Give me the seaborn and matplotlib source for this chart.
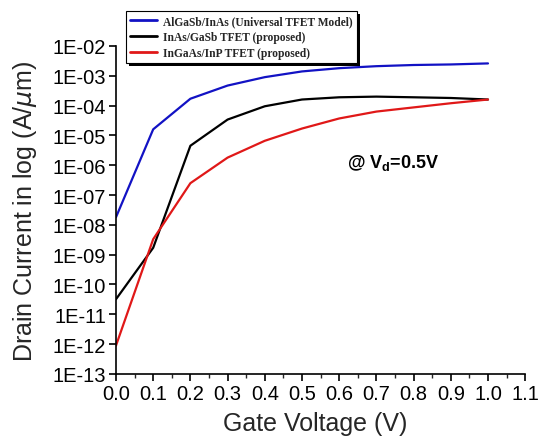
import numpy as np
import pandas as pd
import matplotlib
matplotlib.use("Agg")
import matplotlib.pyplot as plt
import seaborn as sns
from matplotlib.ticker import FixedLocator, MultipleLocator, FixedFormatter

gate_voltage = [0.0, 0.1, 0.2, 0.3, 0.4, 0.5, 0.6, 0.7, 0.8, 0.9, 1.0]
algasb_inas = [1.8e-8, 1.6e-5, 1.7e-4, 4.7e-4, 9.0e-4, 1.4e-3, 1.8e-3, 2.1e-3, 2.3e-3, 2.4e-3, 2.6e-3]
inas_gasb = [3.2e-11, 1.7e-9, 4.5e-6, 3.4e-5, 9.5e-5, 1.6e-4, 1.9e-4, 2.0e-4, 1.9e-4, 1.8e-4, 1.6e-4]
ingaas_inp = [8.9e-13, 3.3e-9, 2.5e-7, 1.8e-6, 6.6e-6, 1.7e-5, 3.7e-5, 6.3e-5, 8.7e-5, 1.2e-4, 1.6e-4]
series_names = ["AlGaSb/InAs (Universal TFET Model)", "InAs/GaSb TFET (proposed)", "InGaAs/InP TFET (proposed)"]
colors = ["#1212c4", "#000000", "#e01818"]
y_ticks = [1e-2, 1e-3, 1e-4, 1e-5, 1e-6, 1e-7, 1e-8, 1e-9, 1e-10, 1e-11, 1e-12, 1e-13]
y_tick_labels = ["1E-02", "1E-03", "1E-04", "1E-05", "1E-06", "1E-07", "1E-08", "1E-09", "1E-10", "1E-11", "1E-12", "1E-13"]
x_ticks = [0.0, 0.1, 0.2, 0.3, 0.4, 0.5, 0.6, 0.7, 0.8, 0.9, 1.0, 1.1]

df = pd.DataFrame({
    "Vg": gate_voltage * 3,
    "Id": algasb_inas + inas_gasb + ingaas_inp,
    "series": [series_names[0]] * 11 + [series_names[1]] * 11 + [series_names[2]] * 11,
})

sns.set_style("ticks")
plt.rcParams["font.family"] = ["Liberation Sans", "DejaVu Sans"]

fig = plt.figure(figsize=(5.42, 4.39), dpi=100)
ax = fig.add_axes([0.214, 0.146, 0.755, 0.747])

sns.lineplot(data=df, x="Vg", y="Id", hue="series", palette=colors,
             hue_order=series_names, linewidth=1.6, ax=ax, legend=False)

ax.set_yscale("log")
ax.set_ylim(1e-13, 1e-2)
ax.set_xlim(0, 1.1)
ax.yaxis.set_major_locator(FixedLocator(y_ticks))
ax.yaxis.set_major_formatter(FixedFormatter(y_tick_labels))
ax.yaxis.set_minor_locator(FixedLocator([]))
ax.set_xticks(x_ticks)
ax.set_xticklabels([f"{v:.1f}" for v in x_ticks])
ax.xaxis.set_minor_locator(MultipleLocator(0.05))

for s in ["top", "right"]:
    ax.spines[s].set_visible(False)
for s in ["left", "bottom"]:
    ax.spines[s].set_linewidth(1.2)
    ax.spines[s].set_color("black")

ax.tick_params(axis="both", which="major", direction="out", length=5, width=1.2,
               labelsize=14.5, colors="black", pad=2)
ax.tick_params(axis="x", which="minor", direction="out", length=3, width=1.0)

ax.set_xlabel("Gate Voltage (V)", fontsize=18)
ax.xaxis.label.set_va("baseline")
ax.xaxis.set_label_coords(0.487, -0.172)
ax.set_ylabel("Drain Current in log (A/$\\mu$m)", fontsize=18, labelpad=10)

ax.text(0.62, 9e-7, "@ V$_\\mathregular{d}$=0.5V", fontsize=13, fontweight="bold", color="black",
        va="baseline")

handles = [plt.Line2D([0], [0], color=c, lw=2) for c in colors]
leg = fig.legend(handles, series_names, loc="upper left", bbox_to_anchor=(126 / 542, 1 - 12 / 439),
                 bbox_transform=fig.transFigure, borderaxespad=0, frameon=True, fancybox=False,
                 shadow={"color": "black", "alpha": 1.0, "linewidth": 0},
                 prop={"family": "Liberation Serif", "weight": "bold", "size": 8.3},
                 handlelength=2.3, handletextpad=0.6, borderpad=0.35, labelspacing=0.35)
leg.get_frame().set_edgecolor("black")
leg.get_frame().set_linewidth(0.8)

fig.savefig("out.png", dpi=100)
